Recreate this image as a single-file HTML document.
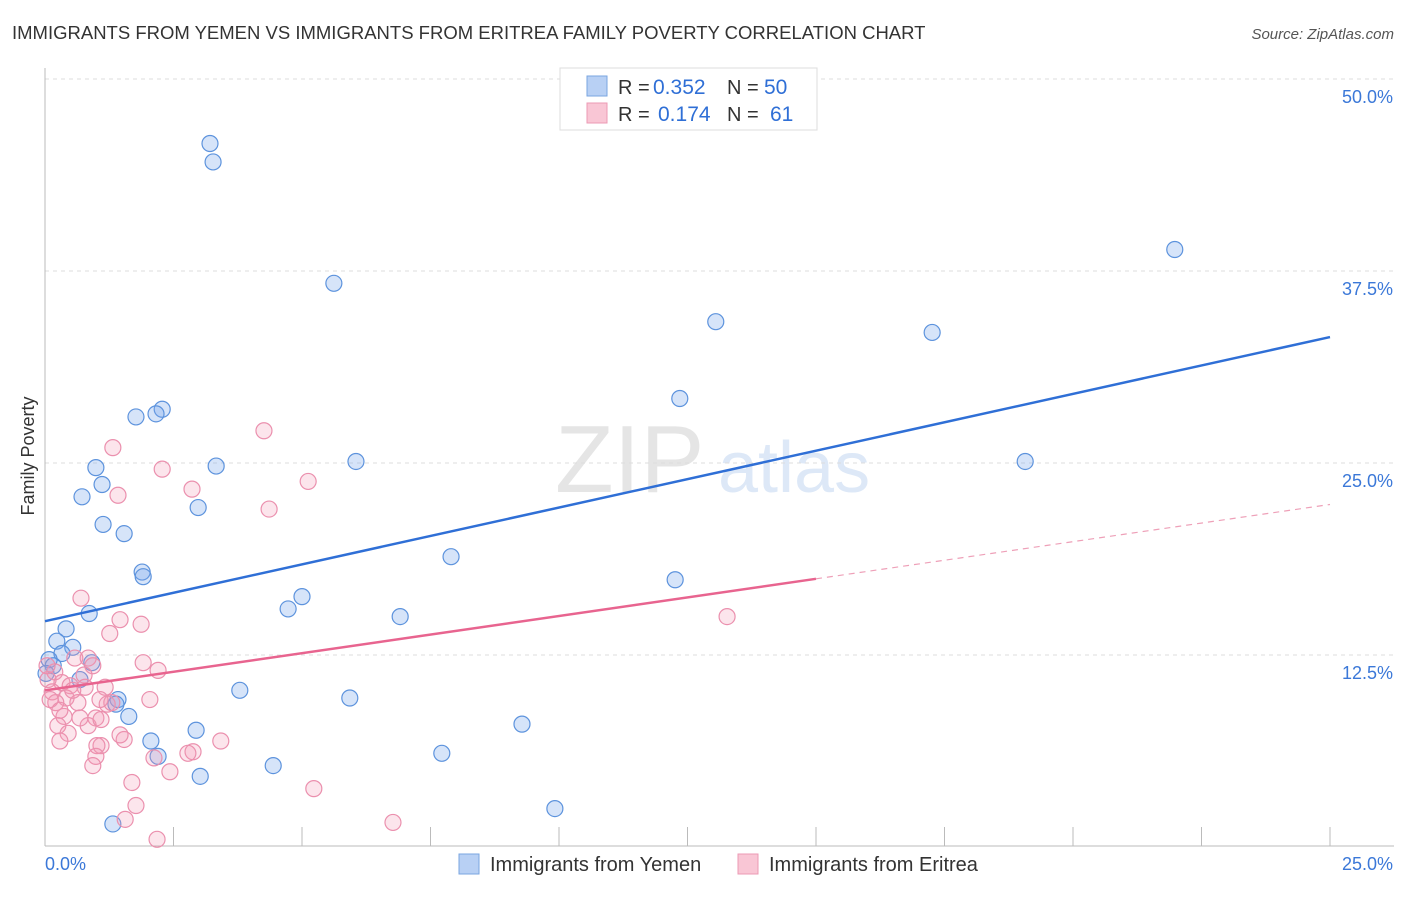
<!DOCTYPE html>
<html><head><meta charset="utf-8"><style>
body{margin:0;background:#fff;font-family:"Liberation Sans",sans-serif;}
svg text{font-family:"Liberation Sans",sans-serif;}
</style></head><body>
<svg id="chart" width="1406" height="892" xmlns="http://www.w3.org/2000/svg">
<text x="12" y="39" font-size="18.5" fill="#333">IMMIGRANTS FROM YEMEN VS IMMIGRANTS FROM ERITREA FAMILY POVERTY CORRELATION CHART</text>
<text x="1394" y="39" font-size="15" fill="#555" text-anchor="end" font-style="italic">Source: ZipAtlas.com</text>
<text transform="translate(34,456) rotate(-90)" font-size="18" fill="#333" text-anchor="middle">Family Poverty</text>
<g opacity="0.25"><text x="555" y="492" font-size="96" fill="#999" font-family="Liberation Serif">ZIP</text><text x="718" y="492" font-size="72" fill="#7aa6e0">atlas</text></g>
<g id="grid"></g><g id="marks"></g><g id="lines"></g>
<g>
<rect x="560" y="68" width="257" height="62" fill="#fff" stroke="#ddd"/>
<rect x="587" y="76" width="20" height="20" fill="#b8d0f4" stroke="#7aa6e0"/>
<rect x="587" y="103" width="20" height="20" fill="#f9c6d5" stroke="#ec9ab4"/>
<text x="618" y="94" font-size="20" fill="#333">R =</text>
<text x="653" y="94" font-size="21" fill="#2f6fd6">0.352</text>
<text x="727" y="94" font-size="20" fill="#333">N =</text>
<text x="764" y="94" font-size="21" fill="#2f6fd6">50</text>
<text x="618" y="121" font-size="20" fill="#333">R =</text>
<text x="658" y="121" font-size="21" fill="#2f6fd6">0.174</text>
<text x="727" y="121" font-size="20" fill="#333">N =</text>
<text x="770" y="121" font-size="21" fill="#2f6fd6">61</text>
</g>
<g>
<rect x="459" y="854" width="20" height="20" fill="#b8d0f4" stroke="#7aa6e0"/>
<text x="490" y="871" font-size="20" fill="#333">Immigrants from Yemen</text>
<rect x="738" y="854" width="20" height="20" fill="#f9c6d5" stroke="#ec9ab4"/>
<text x="769" y="871" font-size="20" fill="#333">Immigrants from Eritrea</text>
</g>
</svg>
<script>
const yTicks=[12.5,25,37.5,50];
const yTickLabels=["12.5%","25.0%","37.5%","50.0%"];
const xTicks=[0,2.5,5,7.5,10,12.5,15,17.5,20,22.5,25];
const xEndLabels=["0.0%","25.0%"];
const yemenX=[3.21,3.27,5.62,21.98,13.05,17.26,12.35,2.28,2.16,1.77,3.33,6.05,19.07,0.99,1.11,0.72,2.98,1.13,1.54,7.90,1.89,1.91,12.26,5.0,4.73,0.86,6.91,0.41,0.23,0.54,0.33,0.08,0.16,0.91,0.68,3.79,1.42,5.93,1.38,1.63,9.28,2.94,2.06,7.72,2.2,4.44,3.02,9.92,1.32,0.02];
const yemenY=[45.8,44.6,36.7,38.9,34.2,33.5,29.2,28.5,28.2,28.0,24.8,25.1,25.1,24.7,23.6,22.8,22.1,21.0,20.4,18.9,17.9,17.6,17.4,16.3,15.5,15.2,15.0,14.2,13.4,13.0,12.6,12.2,11.8,12.0,10.9,10.2,9.6,9.7,9.3,8.5,8.0,7.6,6.9,6.1,5.9,5.3,4.6,2.5,1.5,11.3];
const eritreaX=[1.32,4.26,2.28,5.12,1.42,2.86,4.36,0.70,1.46,1.87,1.26,13.27,1.91,2.2,0.84,0.58,0.93,0.19,0.76,0.06,0.33,0.49,0.78,1.17,0.14,0.41,0.21,0.64,1.21,0.37,0.99,0.25,0.84,1.09,1.30,0.45,0.29,1.54,1.09,1.01,3.42,2.88,2.78,0.99,0.93,2.12,2.43,1.69,1.77,5.23,1.56,6.77,2.18,0.68,0.1,0.04,0.54,1.46,0.29,1.07,2.04];
const eritreaY=[26.0,27.1,24.6,23.8,22.9,23.3,22.0,16.2,14.8,14.5,13.9,15.0,12.0,11.5,12.3,12.3,11.8,11.4,11.2,10.9,10.7,10.5,10.4,10.4,10.1,9.7,9.4,9.4,9.3,8.5,8.4,7.9,7.9,8.3,9.4,7.4,6.9,7.0,6.6,6.6,6.9,6.2,6.1,5.9,5.3,5.8,4.9,4.2,2.7,3.8,1.8,1.6,0.5,8.4,9.6,11.8,10.2,7.3,8.9,9.6,9.6];
const yemenTrend=[14.7,33.2];
const eritreaTrend=[10.2,22.3];
const eritreaSolidEnd=15;
const NS="http://www.w3.org/2000/svg";
const sx=v=>45+v*51.4, sy=v=>847-v*15.36;
function mk(t,a,p){const e=document.createElementNS(NS,t);for(const k in a)e.setAttribute(k,a[k]);p.appendChild(e);return e;}
const grid=document.getElementById('grid'),marks=document.getElementById('marks'),lines=document.getElementById('lines');
yTicks.forEach((v,i)=>{
 const l=mk('line',{x1:45,x2:1394,y1:sy(v),y2:sy(v),stroke:'#ddd','stroke-dasharray':'4,4'},grid);
 
 
 const t=mk('text',{x:1393,y:sy(v)+24,'font-size':18,fill:'#3b78d8','text-anchor':'end'},grid);
 t.textContent=yTickLabels[i];
 
 
});
const ya=mk('line',{x1:45,x2:45,y1:68,y2:846,stroke:'#bbb'},grid);


const xa=mk('line',{x1:45,x2:1394,y1:846,y2:846,stroke:'#bbb'},grid);


xTicks.forEach(v=>{
 const t=mk('line',{x1:sx(v),x2:sx(v),y1:827,y2:846,stroke:'#bbb'},grid);
 
 
});
const xl0=mk('text',{x:45,y:870,'font-size':18,fill:'#3b78d8'},grid);xl0.textContent=xEndLabels[0];


const xl1=mk('text',{x:1393,y:870,'font-size':18,fill:'#3b78d8','text-anchor':'end'},grid);xl1.textContent=xEndLabels[1];


yemenX.forEach((x,i)=>{
 const c=mk('circle',{cx:sx(x),cy:sy(yemenY[i]),r:8,fill:'rgba(120,165,235,0.3)',stroke:'#5d93dd','stroke-width':1.2},marks);
 
 
});
eritreaX.forEach((x,i)=>{
 const c=mk('circle',{cx:sx(x),cy:sy(eritreaY[i]),r:8,fill:'rgba(245,150,180,0.25)',stroke:'#eb90ae','stroke-width':1.2},marks);
 
 
});
const bl=mk('line',{x1:sx(0),y1:sy(yemenTrend[0]),x2:sx(25),y2:sy(yemenTrend[1]),stroke:'#2f6fd6','stroke-width':2.5},lines);


const ey=x=>eritreaTrend[0]+(eritreaTrend[1]-eritreaTrend[0])*x/25;
const pl=mk('line',{x1:sx(0),y1:sy(ey(0)),x2:sx(eritreaSolidEnd),y2:sy(ey(eritreaSolidEnd)),stroke:'#e8648f','stroke-width':2.5},lines);


const pd=mk('line',{x1:sx(eritreaSolidEnd),y1:sy(ey(eritreaSolidEnd)),x2:sx(25),y2:sy(ey(25)),stroke:'#eea0b8','stroke-width':1.2,'stroke-dasharray':'6,5'},lines);


</script>
</body></html>
